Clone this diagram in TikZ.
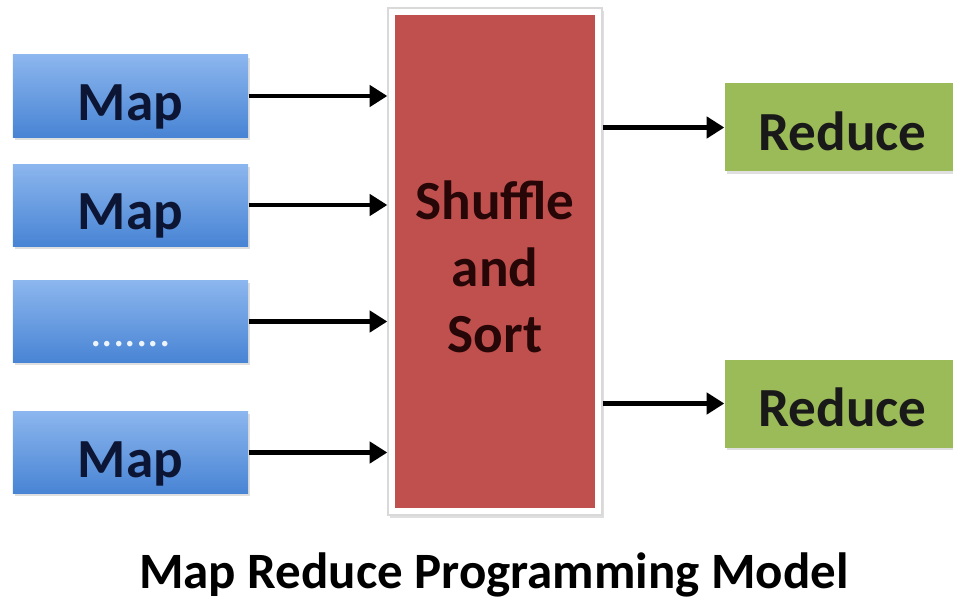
\documentclass[tikz,border=0pt]{standalone}
\usepackage{fontspec}
\setmainfont{Carlito}
\usetikzlibrary{arrows.meta, shadows}
\definecolor{maptop}{RGB}{140,182,238}
\definecolor{mapbottom}{RGB}{72,132,212}
\definecolor{maptext}{RGB}{12,22,52}
\definecolor{shufflered}{RGB}{192,80,77}
\definecolor{shuffletext}{RGB}{38,6,6}
\definecolor{reducegreen}{RGB}{155,187,89}

\begin{document}
\begin{tikzpicture}[
    box/.style={minimum width=2.35cm, inner sep=0pt,
      font=\fontsize{15.7}{19}\selectfont\bfseries,
      text height=13.3pt, text depth=0pt,
      drop shadow={opacity=.25, shadow xshift=.6pt, shadow yshift=-.8pt}},
    mapbox/.style={box, minimum height=0.82cm, text height=14.2pt,
      top color=maptop, bottom color=mapbottom, text=maptext},
    reducebox/.style={box, minimum height=0.88cm, fill=reducegreen, text=black!90},
    shufflebox/.style={minimum width=2.14cm, minimum height=5.07cm,
      fill=white, draw=black!15, thin, align=center,
      font=\fontsize{15.7}{19}\selectfont\bfseries, text=shuffletext,
      text height=52pt, text depth=0pt,
      drop shadow={opacity=.25, shadow xshift=.6pt, shadow yshift=-.8pt},
      path picture={\fill[shufflered]
        ([shift={(0.07,-0.07)}]path picture bounding box.north west) rectangle
        ([shift={(-0.07,0.07)}]path picture bounding box.south east);}},
    arr/.style={line width=1.15pt, -{Triangle[length=5pt,width=6pt]}}
  ]
  \useasboundingbox (0,0) rectangle (9.53,6);

  % map side
  \node[mapbox] (map1) at (1.305,5.04)  {Map};
  \node[mapbox] (map2) at (1.305,3.95)  {Map};
  \node[mapbox, font=\fontsize{13}{14}\selectfont, text=white!85!maptop]
    (map3) at (1.305,2.785) {.......};
  \node[mapbox] (map4) at (1.305,1.475) {Map};

  \node[shufflebox] (shuf) at (4.95,3.385) {Shuffle\\and\\Sort};

  % reduce side
  \node[reducebox] (red1) at (8.425,4.725) {Reduce};
  \node[reducebox] (red2) at (8.425,1.965) {Reduce};

  \foreach \m in {map1,map2,map3,map4}
    \draw[arr] (\m.east) -- (\m.east -| shuf.west);
  \foreach \r in {red1,red2}
    \draw[arr] (shuf.east |- \r.west) -- (\r.west);

  \node[font=\fontsize{14.5}{17}\selectfont\bfseries, anchor=base]
    (title) at (4.94,0.12) {Map Reduce Programming Model};
\end{tikzpicture}
\end{document}
